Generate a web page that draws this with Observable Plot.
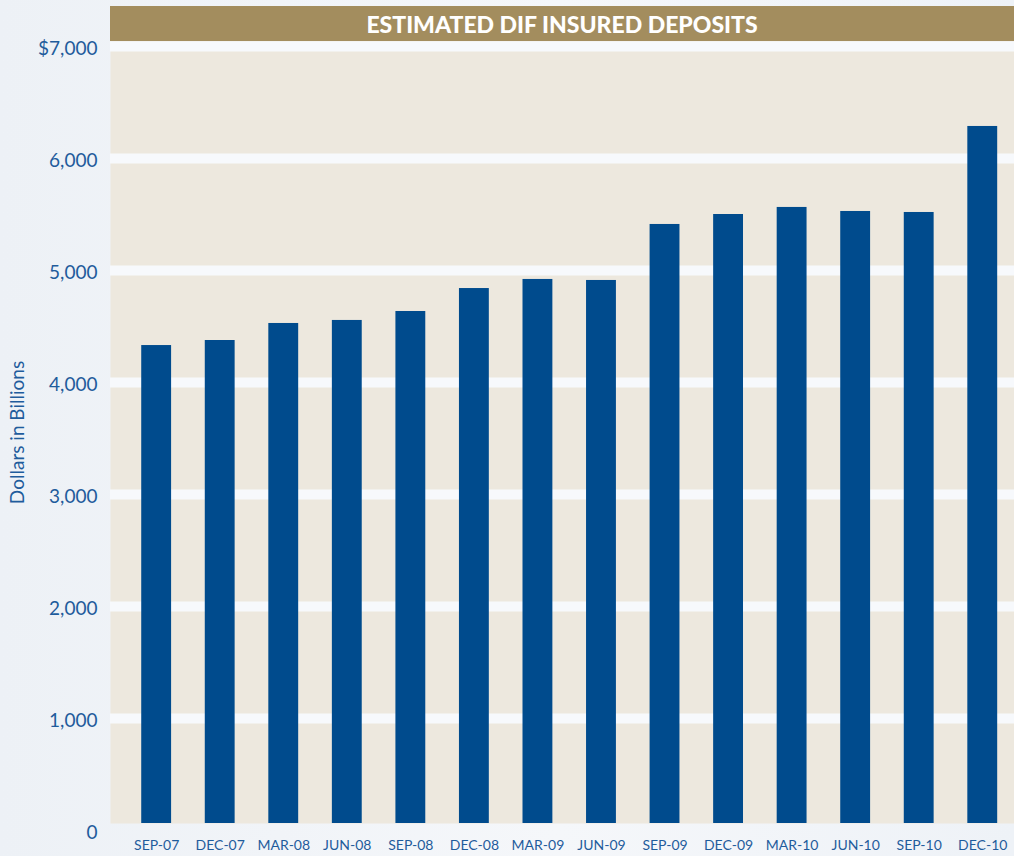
<!DOCTYPE html>
<html><head><meta charset="utf-8">
<script src="https://cdn.jsdelivr.net/npm/d3@7"></script>
<script src="https://cdn.jsdelivr.net/npm/@observablehq/plot@0.6"></script>
<style>
html,body{margin:0;padding:0;}
body{width:1014px;height:856px;background:linear-gradient(90deg,#edf1f6,#f5f7fa 55%,#eef2f7);font-family:Lato,sans-serif;overflow:hidden;position:relative;}
#title{position:absolute;z-index:2;left:110px;top:6px;width:904px;height:35px;background:#a38d5e;color:#fff;font-family:Lato,sans-serif;font-weight:900;font-size:23px;line-height:36px;text-align:center;}
#chart{position:absolute;z-index:1;left:0;top:0;}
</style></head><body>
<div id="title"></div>
<div id="chart"></div>
<script>
const titleText = "ESTIMATED DIF INSURED DEPOSITS";
const yAxisLabel = "Dollars in Billions";
const quarters = ["SEP-07","DEC-07","MAR-08","JUN-08","SEP-08","DEC-08","MAR-09","JUN-09","SEP-09","DEC-09","MAR-10","JUN-10","SEP-10","DEC-10"];
const deposits = [4330, 4375, 4527, 4554, 4634, 4839, 4920, 4911, 5411, 5500, 5563, 5527, 5518, 6286];
const yTicks = [0, 1000, 2000, 3000, 4000, 5000, 6000, 7000];
const yTickLabels = ["0", "1,000", "2,000", "3,000", "4,000", "5,000", "6,000", "$7,000"];

document.getElementById("title").textContent = titleText;
const data = quarters.map((q, i) => ({q, v: deposits[i]}));
const blue = "#1f5c9c";

const chart = Plot.plot({
  width: 1014,
  height: 856,
  marginLeft: 110,
  marginRight: 0,
  marginTop: 41,
  marginBottom: 33,
  style: {background: "transparent", fontFamily: "Lato, sans-serif", color: blue},
  x: {type: "band", domain: quarters, paddingInner: 0.53, paddingOuter: 0.378, align: 0.65, round: false},
  y: {domain: [0, 7000], range: [830, 46]},
  marks: [
    Plot.frame({fill: "#ede8de", stroke: null}),
    Plot.ruleY(yTicks.filter(d => d > 0), {stroke: "#f7f9fc", strokeWidth: 10}),
    Plot.barY(data, {x: "q", y: "v", fill: "#004b8d", clip: "frame"}),
    Plot.axisX({tickSize: 0, tickPadding: 17, fontSize: 14, label: null, fill: blue}),
    Plot.axisY({ticks: yTicks, tickSize: 0, tickPadding: 13, fontSize: 19, dy: 2,
      tickFormat: d => yTickLabels[yTicks.indexOf(d)], fill: blue,
      label: yAxisLabel, labelAnchor: "center", labelArrow: "none", labelOffset: 100})
  ]
});
document.getElementById("chart").appendChild(chart);
</script>
</body></html>
